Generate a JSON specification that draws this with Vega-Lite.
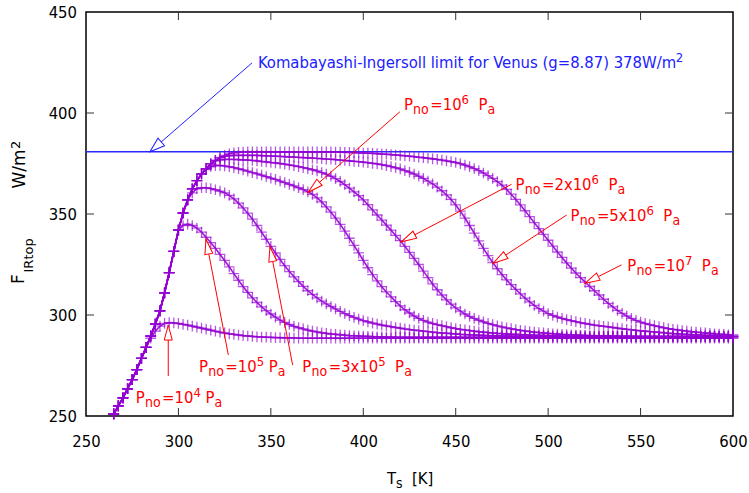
{
"$schema":"https://vega.github.io/schema/vega-lite/v6.json",
"width":647,"height":404,
"autosize":{"type":"none"},
"padding":{"left":86,"top":12,"right":16,"bottom":77},
"background":"white",
"config":{"view":{"stroke":"black","strokeWidth":1.5},"font":"DejaVu Sans Condensed, Liberation Sans Narrow, DejaVu Sans, sans-serif"},
"datasets":{
"curves":[
{"p":"a","T":265,"F":251},{"p":"a","T":267.5,"F":255},{"p":"a","T":270,"F":259},{"p":"a","T":272.5,"F":263.5},{"p":"a","T":275,"F":268},{"p":"a","T":277.5,"F":273},{"p":"a","T":280,"F":278.5},{"p":"a","T":282.5,"F":284},{"p":"a","T":285,"F":288.5},{"p":"a","T":287.5,"F":292},{"p":"a","T":290,"F":294.5},{"p":"a","T":292.5,"F":295.8},{"p":"a","T":295,"F":296.2},{"p":"a","T":297.5,"F":296.1},{"p":"a","T":300,"F":295.8},{"p":"a","T":302.5,"F":295.4},{"p":"a","T":305,"F":295},{"p":"a","T":307.5,"F":294.5},{"p":"a","T":310,"F":294},{"p":"a","T":312.5,"F":293.5},{"p":"a","T":315,"F":293},{"p":"a","T":317.5,"F":292.5},{"p":"a","T":320,"F":292},{"p":"a","T":322.5,"F":291.5},{"p":"a","T":325,"F":291.1},{"p":"a","T":327.5,"F":290.7},{"p":"a","T":330,"F":290.4},{"p":"a","T":332.5,"F":290.1},{"p":"a","T":335,"F":289.8},{"p":"a","T":337.5,"F":289.6},{"p":"a","T":340,"F":289.4},{"p":"a","T":342.5,"F":289.2},{"p":"a","T":345,"F":289.1},{"p":"a","T":347.5,"F":289},{"p":"a","T":350,"F":288.9},{"p":"a","T":352.5,"F":288.8},{"p":"a","T":355,"F":288.8},{"p":"a","T":357.5,"F":288.7},{"p":"a","T":360,"F":288.7},{"p":"a","T":362.5,"F":288.6},{"p":"a","T":365,"F":288.6},{"p":"a","T":367.5,"F":288.5},{"p":"a","T":370,"F":288.5},{"p":"a","T":372.5,"F":288.5},{"p":"a","T":375,"F":288.5},{"p":"a","T":377.5,"F":288.5},{"p":"a","T":380,"F":288.5},{"p":"a","T":382.5,"F":288.5},{"p":"a","T":385,"F":288.5},{"p":"a","T":387.5,"F":288.5},{"p":"a","T":390,"F":288.5},{"p":"a","T":392.5,"F":288.5},{"p":"a","T":395,"F":288.5},{"p":"a","T":397.5,"F":288.5},{"p":"a","T":400,"F":288.5},{"p":"a","T":402.5,"F":288.5},{"p":"a","T":405,"F":288.5},{"p":"a","T":407.5,"F":288.5},{"p":"a","T":410,"F":288.5},{"p":"a","T":412.5,"F":288.5},{"p":"a","T":415,"F":288.5},{"p":"a","T":417.5,"F":288.5},{"p":"a","T":420,"F":288.5},{"p":"a","T":422.5,"F":288.5},{"p":"a","T":425,"F":288.5},{"p":"a","T":427.5,"F":288.5},{"p":"a","T":430,"F":288.5},{"p":"a","T":432.5,"F":288.5},{"p":"a","T":435,"F":288.5},{"p":"a","T":437.5,"F":288.5},{"p":"a","T":440,"F":288.5},{"p":"a","T":442.5,"F":288.5},{"p":"a","T":445,"F":288.5},{"p":"a","T":447.5,"F":288.5},{"p":"a","T":450,"F":288.5},{"p":"a","T":452.5,"F":288.5},{"p":"a","T":455,"F":288.5},{"p":"a","T":457.5,"F":288.5},{"p":"a","T":460,"F":288.5},{"p":"a","T":462.5,"F":288.5},{"p":"a","T":465,"F":288.5},{"p":"a","T":467.5,"F":288.5},{"p":"a","T":470,"F":288.5},{"p":"a","T":472.5,"F":288.5},{"p":"a","T":475,"F":288.5},{"p":"a","T":477.5,"F":288.5},{"p":"a","T":480,"F":288.5},{"p":"a","T":482.5,"F":288.5},{"p":"a","T":485,"F":288.5},{"p":"a","T":487.5,"F":288.5},{"p":"a","T":490,"F":288.5},{"p":"a","T":492.5,"F":288.5},{"p":"a","T":495,"F":288.5},{"p":"a","T":497.5,"F":288.5},{"p":"a","T":500,"F":288.5},{"p":"a","T":502.5,"F":288.5},{"p":"a","T":505,"F":288.5},{"p":"a","T":507.5,"F":288.5},{"p":"a","T":510,"F":288.5},{"p":"a","T":512.5,"F":288.5},{"p":"a","T":515,"F":288.5},{"p":"a","T":517.5,"F":288.5},{"p":"a","T":520,"F":288.5},{"p":"a","T":522.5,"F":288.5},{"p":"a","T":525,"F":288.5},{"p":"a","T":527.5,"F":288.5},{"p":"a","T":530,"F":288.5},{"p":"a","T":532.5,"F":288.5},{"p":"a","T":535,"F":288.5},{"p":"a","T":537.5,"F":288.5},{"p":"a","T":540,"F":288.5},{"p":"a","T":542.5,"F":288.5},{"p":"a","T":545,"F":288.5},{"p":"a","T":547.5,"F":288.5},{"p":"a","T":550,"F":288.5},{"p":"a","T":552.5,"F":288.5},{"p":"a","T":555,"F":288.5},{"p":"a","T":557.5,"F":288.5},{"p":"a","T":560,"F":288.5},{"p":"a","T":562.5,"F":288.5},{"p":"a","T":565,"F":288.5},{"p":"a","T":567.5,"F":288.5},{"p":"a","T":570,"F":288.5},{"p":"a","T":572.5,"F":288.5},{"p":"a","T":575,"F":288.5},{"p":"a","T":577.5,"F":288.5},{"p":"a","T":580,"F":288.5},{"p":"a","T":582.5,"F":288.5},{"p":"a","T":585,"F":288.5},{"p":"a","T":587.5,"F":288.5},{"p":"a","T":590,"F":288.5},{"p":"a","T":592.5,"F":288.5},{"p":"a","T":595,"F":288.5},{"p":"a","T":597.5,"F":288.5},{"p":"a","T":600,"F":288.5},
{"p":"b","T":265,"F":251},{"p":"b","T":267.5,"F":255},{"p":"b","T":270,"F":259},{"p":"b","T":272.5,"F":263.5},{"p":"b","T":275,"F":268},{"p":"b","T":277.5,"F":273},{"p":"b","T":280,"F":278.5},{"p":"b","T":282.5,"F":284},{"p":"b","T":285,"F":289.5},{"p":"b","T":287.5,"F":295.5},{"p":"b","T":290,"F":302},{"p":"b","T":292.5,"F":311},{"p":"b","T":295,"F":321},{"p":"b","T":297.5,"F":331.5},{"p":"b","T":300,"F":342},{"p":"b","T":302.5,"F":344.3},{"p":"b","T":305,"F":345},{"p":"b","T":307.5,"F":344.3},{"p":"b","T":310,"F":343},{"p":"b","T":312.5,"F":341},{"p":"b","T":315,"F":338.5},{"p":"b","T":317.5,"F":335.8},{"p":"b","T":320,"F":333},{"p":"b","T":322.5,"F":330},{"p":"b","T":325,"F":327},{"p":"b","T":327.5,"F":323.8},{"p":"b","T":330,"F":320.5},{"p":"b","T":332.5,"F":317.2},{"p":"b","T":335,"F":314},{"p":"b","T":337.5,"F":311.2},{"p":"b","T":340,"F":308.5},{"p":"b","T":342.5,"F":306.2},{"p":"b","T":345,"F":304},{"p":"b","T":347.5,"F":302.2},{"p":"b","T":350,"F":300.5},{"p":"b","T":352.5,"F":298.9},{"p":"b","T":355,"F":297.5},{"p":"b","T":357.5,"F":296.3},{"p":"b","T":360,"F":295.3},{"p":"b","T":362.5,"F":294.4},{"p":"b","T":365,"F":293.7},{"p":"b","T":367.5,"F":293.1},{"p":"b","T":370,"F":292.5},{"p":"b","T":372.5,"F":292},{"p":"b","T":375,"F":291.6},{"p":"b","T":377.5,"F":291.2},{"p":"b","T":380,"F":290.9},{"p":"b","T":382.5,"F":290.6},{"p":"b","T":385,"F":290.4},{"p":"b","T":387.5,"F":290.2},{"p":"b","T":390,"F":290},{"p":"b","T":392.5,"F":289.8},{"p":"b","T":395,"F":289.7},{"p":"b","T":397.5,"F":289.6},{"p":"b","T":400,"F":289.5},{"p":"b","T":402.5,"F":289.4},{"p":"b","T":405,"F":289.3},{"p":"b","T":407.5,"F":289.2},{"p":"b","T":410,"F":289.2},{"p":"b","T":412.5,"F":289.1},{"p":"b","T":415,"F":289.1},{"p":"b","T":417.5,"F":289},{"p":"b","T":420,"F":289},{"p":"b","T":422.5,"F":289},{"p":"b","T":425,"F":289},{"p":"b","T":427.5,"F":289},{"p":"b","T":430,"F":289},{"p":"b","T":432.5,"F":289},{"p":"b","T":435,"F":289},{"p":"b","T":437.5,"F":289},{"p":"b","T":440,"F":289},{"p":"b","T":442.5,"F":289},{"p":"b","T":445,"F":289},{"p":"b","T":447.5,"F":289},{"p":"b","T":450,"F":289},{"p":"b","T":452.5,"F":289},{"p":"b","T":455,"F":289},{"p":"b","T":457.5,"F":289},{"p":"b","T":460,"F":289},{"p":"b","T":462.5,"F":289},{"p":"b","T":465,"F":289},{"p":"b","T":467.5,"F":289},{"p":"b","T":470,"F":289},{"p":"b","T":472.5,"F":289},{"p":"b","T":475,"F":289},{"p":"b","T":477.5,"F":289},{"p":"b","T":480,"F":289},{"p":"b","T":482.5,"F":289},{"p":"b","T":485,"F":289},{"p":"b","T":487.5,"F":289},{"p":"b","T":490,"F":289},{"p":"b","T":492.5,"F":289},{"p":"b","T":495,"F":289},{"p":"b","T":497.5,"F":289},{"p":"b","T":500,"F":289},{"p":"b","T":502.5,"F":289},{"p":"b","T":505,"F":289},{"p":"b","T":507.5,"F":289},{"p":"b","T":510,"F":289},{"p":"b","T":512.5,"F":289},{"p":"b","T":515,"F":289},{"p":"b","T":517.5,"F":289},{"p":"b","T":520,"F":289},{"p":"b","T":522.5,"F":289},{"p":"b","T":525,"F":289},{"p":"b","T":527.5,"F":289},{"p":"b","T":530,"F":289},{"p":"b","T":532.5,"F":289},{"p":"b","T":535,"F":289},{"p":"b","T":537.5,"F":289},{"p":"b","T":540,"F":289},{"p":"b","T":542.5,"F":289},{"p":"b","T":545,"F":289},{"p":"b","T":547.5,"F":289},{"p":"b","T":550,"F":289},{"p":"b","T":552.5,"F":289},{"p":"b","T":555,"F":289},{"p":"b","T":557.5,"F":289},{"p":"b","T":560,"F":289},{"p":"b","T":562.5,"F":289},{"p":"b","T":565,"F":289},{"p":"b","T":567.5,"F":289},{"p":"b","T":570,"F":289},{"p":"b","T":572.5,"F":289},{"p":"b","T":575,"F":289},{"p":"b","T":577.5,"F":289},{"p":"b","T":580,"F":289},{"p":"b","T":582.5,"F":289},{"p":"b","T":585,"F":289},{"p":"b","T":587.5,"F":289},{"p":"b","T":590,"F":289},{"p":"b","T":592.5,"F":289},{"p":"b","T":595,"F":289},{"p":"b","T":597.5,"F":289},{"p":"b","T":600,"F":289},
{"p":"c","T":265,"F":251},{"p":"c","T":267.5,"F":255},{"p":"c","T":270,"F":259},{"p":"c","T":272.5,"F":263.5},{"p":"c","T":275,"F":268},{"p":"c","T":277.5,"F":273},{"p":"c","T":280,"F":278.5},{"p":"c","T":282.5,"F":284},{"p":"c","T":285,"F":289.5},{"p":"c","T":287.5,"F":295.5},{"p":"c","T":290,"F":302},{"p":"c","T":292.5,"F":311},{"p":"c","T":295,"F":321},{"p":"c","T":297.5,"F":331.5},{"p":"c","T":300,"F":342},{"p":"c","T":302.5,"F":350.5},{"p":"c","T":305,"F":357},{"p":"c","T":307.5,"F":360.5},{"p":"c","T":310,"F":362.5},{"p":"c","T":312.5,"F":363},{"p":"c","T":315,"F":363},{"p":"c","T":317.5,"F":362.6},{"p":"c","T":320,"F":362},{"p":"c","T":322.5,"F":361.3},{"p":"c","T":325,"F":360.5},{"p":"c","T":327.5,"F":359.2},{"p":"c","T":330,"F":357.5},{"p":"c","T":332.5,"F":355.4},{"p":"c","T":335,"F":353},{"p":"c","T":337.5,"F":350.4},{"p":"c","T":340,"F":347.5},{"p":"c","T":342.5,"F":344.3},{"p":"c","T":345,"F":341},{"p":"c","T":347.5,"F":337.5},{"p":"c","T":350,"F":334},{"p":"c","T":352.5,"F":330.7},{"p":"c","T":355,"F":327.5},{"p":"c","T":357.5,"F":324.4},{"p":"c","T":360,"F":321.5},{"p":"c","T":362.5,"F":318.9},{"p":"c","T":365,"F":316.5},{"p":"c","T":367.5,"F":314.2},{"p":"c","T":370,"F":312},{"p":"c","T":372.5,"F":310.2},{"p":"c","T":375,"F":308.5},{"p":"c","T":377.5,"F":306.9},{"p":"c","T":380,"F":305.5},{"p":"c","T":382.5,"F":304.2},{"p":"c","T":385,"F":303},{"p":"c","T":387.5,"F":301.8},{"p":"c","T":390,"F":300.7},{"p":"c","T":392.5,"F":299.7},{"p":"c","T":395,"F":298.8},{"p":"c","T":397.5,"F":298},{"p":"c","T":400,"F":297.2},{"p":"c","T":402.5,"F":296.6},{"p":"c","T":405,"F":296},{"p":"c","T":407.5,"F":295.5},{"p":"c","T":410,"F":295},{"p":"c","T":412.5,"F":294.6},{"p":"c","T":415,"F":294.2},{"p":"c","T":417.5,"F":293.8},{"p":"c","T":420,"F":293.5},{"p":"c","T":422.5,"F":293.1},{"p":"c","T":425,"F":292.8},{"p":"c","T":427.5,"F":292.5},{"p":"c","T":430,"F":292.3},{"p":"c","T":432.5,"F":292},{"p":"c","T":435,"F":291.8},{"p":"c","T":437.5,"F":291.5},{"p":"c","T":440,"F":291.3},{"p":"c","T":442.5,"F":291.1},{"p":"c","T":445,"F":291},{"p":"c","T":447.5,"F":290.8},{"p":"c","T":450,"F":290.6},{"p":"c","T":452.5,"F":290.4},{"p":"c","T":455,"F":290.3},{"p":"c","T":457.5,"F":290.2},{"p":"c","T":460,"F":290.1},{"p":"c","T":462.5,"F":290},{"p":"c","T":465,"F":289.9},{"p":"c","T":467.5,"F":289.8},{"p":"c","T":470,"F":289.8},{"p":"c","T":472.5,"F":289.7},{"p":"c","T":475,"F":289.7},{"p":"c","T":477.5,"F":289.6},{"p":"c","T":480,"F":289.6},{"p":"c","T":482.5,"F":289.5},{"p":"c","T":485,"F":289.5},{"p":"c","T":487.5,"F":289.4},{"p":"c","T":490,"F":289.4},{"p":"c","T":492.5,"F":289.4},{"p":"c","T":495,"F":289.4},{"p":"c","T":497.5,"F":289.3},{"p":"c","T":500,"F":289.3},{"p":"c","T":502.5,"F":289.2},{"p":"c","T":505,"F":289.2},{"p":"c","T":507.5,"F":289.2},{"p":"c","T":510,"F":289.2},{"p":"c","T":512.5,"F":289.2},{"p":"c","T":515,"F":289.2},{"p":"c","T":517.5,"F":289.2},{"p":"c","T":520,"F":289.2},{"p":"c","T":522.5,"F":289.2},{"p":"c","T":525,"F":289.2},{"p":"c","T":527.5,"F":289.2},{"p":"c","T":530,"F":289.2},{"p":"c","T":532.5,"F":289.2},{"p":"c","T":535,"F":289.2},{"p":"c","T":537.5,"F":289.2},{"p":"c","T":540,"F":289.2},{"p":"c","T":542.5,"F":289.2},{"p":"c","T":545,"F":289.2},{"p":"c","T":547.5,"F":289.2},{"p":"c","T":550,"F":289.2},{"p":"c","T":552.5,"F":289.2},{"p":"c","T":555,"F":289.2},{"p":"c","T":557.5,"F":289.2},{"p":"c","T":560,"F":289.2},{"p":"c","T":562.5,"F":289.2},{"p":"c","T":565,"F":289.2},{"p":"c","T":567.5,"F":289.2},{"p":"c","T":570,"F":289.2},{"p":"c","T":572.5,"F":289.2},{"p":"c","T":575,"F":289.2},{"p":"c","T":577.5,"F":289.2},{"p":"c","T":580,"F":289.2},{"p":"c","T":582.5,"F":289.2},{"p":"c","T":585,"F":289.2},{"p":"c","T":587.5,"F":289.2},{"p":"c","T":590,"F":289.2},{"p":"c","T":592.5,"F":289.2},{"p":"c","T":595,"F":289.2},{"p":"c","T":597.5,"F":289.2},{"p":"c","T":600,"F":289.2},
{"p":"d","T":265,"F":251},{"p":"d","T":267.5,"F":255},{"p":"d","T":270,"F":259},{"p":"d","T":272.5,"F":263.5},{"p":"d","T":275,"F":268},{"p":"d","T":277.5,"F":273},{"p":"d","T":280,"F":278.5},{"p":"d","T":282.5,"F":284},{"p":"d","T":285,"F":289.5},{"p":"d","T":287.5,"F":295.5},{"p":"d","T":290,"F":302},{"p":"d","T":292.5,"F":311},{"p":"d","T":295,"F":321},{"p":"d","T":297.5,"F":331.5},{"p":"d","T":300,"F":342},{"p":"d","T":302.5,"F":350.5},{"p":"d","T":305,"F":357},{"p":"d","T":307.5,"F":362.5},{"p":"d","T":310,"F":366.5},{"p":"d","T":312.5,"F":369.8},{"p":"d","T":315,"F":372},{"p":"d","T":317.5,"F":373.4},{"p":"d","T":320,"F":374},{"p":"d","T":322.5,"F":374},{"p":"d","T":325,"F":373.8},{"p":"d","T":327.5,"F":373.4},{"p":"d","T":330,"F":373},{"p":"d","T":332.5,"F":372.4},{"p":"d","T":335,"F":371.8},{"p":"d","T":337.5,"F":371.2},{"p":"d","T":340,"F":370.5},{"p":"d","T":342.5,"F":369.9},{"p":"d","T":345,"F":369.2},{"p":"d","T":347.5,"F":368.5},{"p":"d","T":350,"F":367.8},{"p":"d","T":352.5,"F":367.1},{"p":"d","T":355,"F":366.3},{"p":"d","T":357.5,"F":365.5},{"p":"d","T":360,"F":364.7},{"p":"d","T":362.5,"F":363.9},{"p":"d","T":365,"F":363},{"p":"d","T":367.5,"F":362.1},{"p":"d","T":370,"F":361},{"p":"d","T":372.5,"F":359.7},{"p":"d","T":375,"F":358},{"p":"d","T":377.5,"F":356},{"p":"d","T":380,"F":353.5},{"p":"d","T":382.5,"F":350.9},{"p":"d","T":385,"F":348},{"p":"d","T":387.5,"F":344.9},{"p":"d","T":390,"F":341.5},{"p":"d","T":392.5,"F":338},{"p":"d","T":395,"F":334.5},{"p":"d","T":397.5,"F":330.8},{"p":"d","T":400,"F":327},{"p":"d","T":402.5,"F":323.4},{"p":"d","T":405,"F":320},{"p":"d","T":407.5,"F":316.9},{"p":"d","T":410,"F":314},{"p":"d","T":412.5,"F":311.4},{"p":"d","T":415,"F":309},{"p":"d","T":417.5,"F":306.6},{"p":"d","T":420,"F":304.5},{"p":"d","T":422.5,"F":302.6},{"p":"d","T":425,"F":301},{"p":"d","T":427.5,"F":299.5},{"p":"d","T":430,"F":298.3},{"p":"d","T":432.5,"F":297.3},{"p":"d","T":435,"F":296.5},{"p":"d","T":437.5,"F":295.8},{"p":"d","T":440,"F":295.2},{"p":"d","T":442.5,"F":294.7},{"p":"d","T":445,"F":294.2},{"p":"d","T":447.5,"F":293.7},{"p":"d","T":450,"F":293.3},{"p":"d","T":452.5,"F":292.9},{"p":"d","T":455,"F":292.6},{"p":"d","T":457.5,"F":292.3},{"p":"d","T":460,"F":292},{"p":"d","T":462.5,"F":291.7},{"p":"d","T":465,"F":291.5},{"p":"d","T":467.5,"F":291.3},{"p":"d","T":470,"F":291.1},{"p":"d","T":472.5,"F":290.9},{"p":"d","T":475,"F":290.8},{"p":"d","T":477.5,"F":290.6},{"p":"d","T":480,"F":290.5},{"p":"d","T":482.5,"F":290.4},{"p":"d","T":485,"F":290.3},{"p":"d","T":487.5,"F":290.2},{"p":"d","T":490,"F":290.1},{"p":"d","T":492.5,"F":290},{"p":"d","T":495,"F":289.9},{"p":"d","T":497.5,"F":289.9},{"p":"d","T":500,"F":289.8},{"p":"d","T":502.5,"F":289.7},{"p":"d","T":505,"F":289.7},{"p":"d","T":507.5,"F":289.6},{"p":"d","T":510,"F":289.6},{"p":"d","T":512.5,"F":289.5},{"p":"d","T":515,"F":289.5},{"p":"d","T":517.5,"F":289.5},{"p":"d","T":520,"F":289.5},{"p":"d","T":522.5,"F":289.4},{"p":"d","T":525,"F":289.4},{"p":"d","T":527.5,"F":289.4},{"p":"d","T":530,"F":289.4},{"p":"d","T":532.5,"F":289.4},{"p":"d","T":535,"F":289.4},{"p":"d","T":537.5,"F":289.4},{"p":"d","T":540,"F":289.4},{"p":"d","T":542.5,"F":289.4},{"p":"d","T":545,"F":289.4},{"p":"d","T":547.5,"F":289.4},{"p":"d","T":550,"F":289.4},{"p":"d","T":552.5,"F":289.4},{"p":"d","T":555,"F":289.4},{"p":"d","T":557.5,"F":289.4},{"p":"d","T":560,"F":289.4},{"p":"d","T":562.5,"F":289.4},{"p":"d","T":565,"F":289.4},{"p":"d","T":567.5,"F":289.4},{"p":"d","T":570,"F":289.4},{"p":"d","T":572.5,"F":289.4},{"p":"d","T":575,"F":289.4},{"p":"d","T":577.5,"F":289.4},{"p":"d","T":580,"F":289.4},{"p":"d","T":582.5,"F":289.4},{"p":"d","T":585,"F":289.4},{"p":"d","T":587.5,"F":289.4},{"p":"d","T":590,"F":289.4},{"p":"d","T":592.5,"F":289.4},{"p":"d","T":595,"F":289.4},{"p":"d","T":597.5,"F":289.4},{"p":"d","T":600,"F":289.4},
{"p":"e","T":265,"F":251},{"p":"e","T":267.5,"F":255},{"p":"e","T":270,"F":259},{"p":"e","T":272.5,"F":263.5},{"p":"e","T":275,"F":268},{"p":"e","T":277.5,"F":273},{"p":"e","T":280,"F":278.5},{"p":"e","T":282.5,"F":284},{"p":"e","T":285,"F":289.5},{"p":"e","T":287.5,"F":295.5},{"p":"e","T":290,"F":302},{"p":"e","T":292.5,"F":311},{"p":"e","T":295,"F":321},{"p":"e","T":297.5,"F":331.5},{"p":"e","T":300,"F":342},{"p":"e","T":302.5,"F":350.5},{"p":"e","T":305,"F":357},{"p":"e","T":307.5,"F":362.5},{"p":"e","T":310,"F":366.5},{"p":"e","T":312.5,"F":369.8},{"p":"e","T":315,"F":372.5},{"p":"e","T":317.5,"F":374.8},{"p":"e","T":320,"F":376.3},{"p":"e","T":322.5,"F":376.8},{"p":"e","T":325,"F":377},{"p":"e","T":327.5,"F":377},{"p":"e","T":330,"F":377},{"p":"e","T":332.5,"F":376.9},{"p":"e","T":335,"F":376.8},{"p":"e","T":337.5,"F":376.7},{"p":"e","T":340,"F":376.5},{"p":"e","T":342.5,"F":376.3},{"p":"e","T":345,"F":376},{"p":"e","T":347.5,"F":375.8},{"p":"e","T":350,"F":375.5},{"p":"e","T":352.5,"F":375.3},{"p":"e","T":355,"F":375},{"p":"e","T":357.5,"F":374.7},{"p":"e","T":360,"F":374.3},{"p":"e","T":362.5,"F":373.9},{"p":"e","T":365,"F":373.5},{"p":"e","T":367.5,"F":373},{"p":"e","T":370,"F":372.5},{"p":"e","T":372.5,"F":371.9},{"p":"e","T":375,"F":371.3},{"p":"e","T":377.5,"F":370.5},{"p":"e","T":380,"F":369.7},{"p":"e","T":382.5,"F":368.7},{"p":"e","T":385,"F":367.5},{"p":"e","T":387.5,"F":366.1},{"p":"e","T":390,"F":364.5},{"p":"e","T":392.5,"F":362.8},{"p":"e","T":395,"F":361},{"p":"e","T":397.5,"F":359.1},{"p":"e","T":400,"F":357},{"p":"e","T":402.5,"F":354.6},{"p":"e","T":405,"F":352},{"p":"e","T":407.5,"F":349.5},{"p":"e","T":410,"F":347},{"p":"e","T":412.5,"F":344.5},{"p":"e","T":415,"F":342},{"p":"e","T":417.5,"F":339.4},{"p":"e","T":420,"F":336.8},{"p":"e","T":422.5,"F":334},{"p":"e","T":425,"F":331},{"p":"e","T":427.5,"F":328},{"p":"e","T":430,"F":325},{"p":"e","T":432.5,"F":321.7},{"p":"e","T":435,"F":318.5},{"p":"e","T":437.5,"F":315.4},{"p":"e","T":440,"F":312.5},{"p":"e","T":442.5,"F":309.9},{"p":"e","T":445,"F":307.5},{"p":"e","T":447.5,"F":305.4},{"p":"e","T":450,"F":303.5},{"p":"e","T":452.5,"F":301.9},{"p":"e","T":455,"F":300.5},{"p":"e","T":457.5,"F":299.3},{"p":"e","T":460,"F":298.3},{"p":"e","T":462.5,"F":297.4},{"p":"e","T":465,"F":296.6},{"p":"e","T":467.5,"F":295.9},{"p":"e","T":470,"F":295.2},{"p":"e","T":472.5,"F":294.6},{"p":"e","T":475,"F":294.1},{"p":"e","T":477.5,"F":293.6},{"p":"e","T":480,"F":293.2},{"p":"e","T":482.5,"F":292.8},{"p":"e","T":485,"F":292.4},{"p":"e","T":487.5,"F":292.1},{"p":"e","T":490,"F":291.8},{"p":"e","T":492.5,"F":291.5},{"p":"e","T":495,"F":291.3},{"p":"e","T":497.5,"F":291.1},{"p":"e","T":500,"F":290.9},{"p":"e","T":502.5,"F":290.7},{"p":"e","T":505,"F":290.6},{"p":"e","T":507.5,"F":290.4},{"p":"e","T":510,"F":290.3},{"p":"e","T":512.5,"F":290.2},{"p":"e","T":515,"F":290.1},{"p":"e","T":517.5,"F":290},{"p":"e","T":520,"F":289.9},{"p":"e","T":522.5,"F":289.8},{"p":"e","T":525,"F":289.8},{"p":"e","T":527.5,"F":289.7},{"p":"e","T":530,"F":289.6},{"p":"e","T":532.5,"F":289.6},{"p":"e","T":535,"F":289.5},{"p":"e","T":537.5,"F":289.5},{"p":"e","T":540,"F":289.4},{"p":"e","T":542.5,"F":289.4},{"p":"e","T":545,"F":289.4},{"p":"e","T":547.5,"F":289.3},{"p":"e","T":550,"F":289.3},{"p":"e","T":552.5,"F":289.3},{"p":"e","T":555,"F":289.3},{"p":"e","T":557.5,"F":289.3},{"p":"e","T":560,"F":289.3},{"p":"e","T":562.5,"F":289.3},{"p":"e","T":565,"F":289.3},{"p":"e","T":567.5,"F":289.3},{"p":"e","T":570,"F":289.3},{"p":"e","T":572.5,"F":289.3},{"p":"e","T":575,"F":289.3},{"p":"e","T":577.5,"F":289.3},{"p":"e","T":580,"F":289.3},{"p":"e","T":582.5,"F":289.3},{"p":"e","T":585,"F":289.3},{"p":"e","T":587.5,"F":289.3},{"p":"e","T":590,"F":289.3},{"p":"e","T":592.5,"F":289.3},{"p":"e","T":595,"F":289.3},{"p":"e","T":597.5,"F":289.3},{"p":"e","T":600,"F":289.3},
{"p":"f","T":265,"F":251},{"p":"f","T":267.5,"F":255},{"p":"f","T":270,"F":259},{"p":"f","T":272.5,"F":263.5},{"p":"f","T":275,"F":268},{"p":"f","T":277.5,"F":273},{"p":"f","T":280,"F":278.5},{"p":"f","T":282.5,"F":284},{"p":"f","T":285,"F":289.5},{"p":"f","T":287.5,"F":295.5},{"p":"f","T":290,"F":302},{"p":"f","T":292.5,"F":311},{"p":"f","T":295,"F":321},{"p":"f","T":297.5,"F":331.5},{"p":"f","T":300,"F":342},{"p":"f","T":302.5,"F":350.5},{"p":"f","T":305,"F":357},{"p":"f","T":307.5,"F":362.5},{"p":"f","T":310,"F":366.5},{"p":"f","T":312.5,"F":369.8},{"p":"f","T":315,"F":372.5},{"p":"f","T":317.5,"F":374.8},{"p":"f","T":320,"F":376.5},{"p":"f","T":322.5,"F":377.8},{"p":"f","T":325,"F":378.5},{"p":"f","T":327.5,"F":378.8},{"p":"f","T":330,"F":379},{"p":"f","T":332.5,"F":379},{"p":"f","T":335,"F":379},{"p":"f","T":337.5,"F":379},{"p":"f","T":340,"F":379},{"p":"f","T":342.5,"F":379},{"p":"f","T":345,"F":378.9},{"p":"f","T":347.5,"F":378.8},{"p":"f","T":350,"F":378.7},{"p":"f","T":352.5,"F":378.6},{"p":"f","T":355,"F":378.5},{"p":"f","T":357.5,"F":378.4},{"p":"f","T":360,"F":378.3},{"p":"f","T":362.5,"F":378.2},{"p":"f","T":365,"F":378},{"p":"f","T":367.5,"F":377.9},{"p":"f","T":370,"F":377.8},{"p":"f","T":372.5,"F":377.7},{"p":"f","T":375,"F":377.5},{"p":"f","T":377.5,"F":377.4},{"p":"f","T":380,"F":377.2},{"p":"f","T":382.5,"F":377.1},{"p":"f","T":385,"F":376.9},{"p":"f","T":387.5,"F":376.7},{"p":"f","T":390,"F":376.5},{"p":"f","T":392.5,"F":376.3},{"p":"f","T":395,"F":376.1},{"p":"f","T":397.5,"F":375.9},{"p":"f","T":400,"F":375.7},{"p":"f","T":402.5,"F":375.4},{"p":"f","T":405,"F":375.1},{"p":"f","T":407.5,"F":374.8},{"p":"f","T":410,"F":374.4},{"p":"f","T":412.5,"F":374},{"p":"f","T":415,"F":373.5},{"p":"f","T":417.5,"F":372.9},{"p":"f","T":420,"F":372.3},{"p":"f","T":422.5,"F":371.5},{"p":"f","T":425,"F":370.7},{"p":"f","T":427.5,"F":369.8},{"p":"f","T":430,"F":368.7},{"p":"f","T":432.5,"F":367.6},{"p":"f","T":435,"F":366.3},{"p":"f","T":437.5,"F":364.9},{"p":"f","T":440,"F":363.3},{"p":"f","T":442.5,"F":361.5},{"p":"f","T":445,"F":359.5},{"p":"f","T":447.5,"F":357.2},{"p":"f","T":450,"F":354.5},{"p":"f","T":452.5,"F":351.4},{"p":"f","T":455,"F":348},{"p":"f","T":457.5,"F":344.3},{"p":"f","T":460,"F":340.5},{"p":"f","T":462.5,"F":336.7},{"p":"f","T":465,"F":333},{"p":"f","T":467.5,"F":329.4},{"p":"f","T":470,"F":326},{"p":"f","T":472.5,"F":322.9},{"p":"f","T":475,"F":320},{"p":"f","T":477.5,"F":317.4},{"p":"f","T":480,"F":315},{"p":"f","T":482.5,"F":312.7},{"p":"f","T":485,"F":310.5},{"p":"f","T":487.5,"F":308.4},{"p":"f","T":490,"F":306.5},{"p":"f","T":492.5,"F":304.8},{"p":"f","T":495,"F":303.2},{"p":"f","T":497.5,"F":301.9},{"p":"f","T":500,"F":300.7},{"p":"f","T":502.5,"F":299.8},{"p":"f","T":505,"F":299},{"p":"f","T":507.5,"F":298.3},{"p":"f","T":510,"F":297.7},{"p":"f","T":512.5,"F":297.2},{"p":"f","T":515,"F":296.7},{"p":"f","T":517.5,"F":296.2},{"p":"f","T":520,"F":295.8},{"p":"f","T":522.5,"F":295.4},{"p":"f","T":525,"F":295},{"p":"f","T":527.5,"F":294.7},{"p":"f","T":530,"F":294.4},{"p":"f","T":532.5,"F":294.1},{"p":"f","T":535,"F":293.8},{"p":"f","T":537.5,"F":293.5},{"p":"f","T":540,"F":293.2},{"p":"f","T":542.5,"F":292.9},{"p":"f","T":545,"F":292.7},{"p":"f","T":547.5,"F":292.4},{"p":"f","T":550,"F":292.2},{"p":"f","T":552.5,"F":292},{"p":"f","T":555,"F":291.8},{"p":"f","T":557.5,"F":291.6},{"p":"f","T":560,"F":291.4},{"p":"f","T":562.5,"F":291.2},{"p":"f","T":565,"F":291},{"p":"f","T":567.5,"F":290.8},{"p":"f","T":570,"F":290.7},{"p":"f","T":572.5,"F":290.5},{"p":"f","T":575,"F":290.4},{"p":"f","T":577.5,"F":290.3},{"p":"f","T":580,"F":290.2},{"p":"f","T":582.5,"F":290.1},{"p":"f","T":585,"F":290},{"p":"f","T":587.5,"F":289.9},{"p":"f","T":590,"F":289.8},{"p":"f","T":592.5,"F":289.7},{"p":"f","T":595,"F":289.6},{"p":"f","T":597.5,"F":289.6},{"p":"f","T":600,"F":289.5},
{"p":"g","T":265,"F":251},{"p":"g","T":267.5,"F":255},{"p":"g","T":270,"F":259},{"p":"g","T":272.5,"F":263.5},{"p":"g","T":275,"F":268},{"p":"g","T":277.5,"F":273},{"p":"g","T":280,"F":278.5},{"p":"g","T":282.5,"F":284},{"p":"g","T":285,"F":289.5},{"p":"g","T":287.5,"F":295.5},{"p":"g","T":290,"F":302},{"p":"g","T":292.5,"F":311},{"p":"g","T":295,"F":321},{"p":"g","T":297.5,"F":331.5},{"p":"g","T":300,"F":342},{"p":"g","T":302.5,"F":350.5},{"p":"g","T":305,"F":357},{"p":"g","T":307.5,"F":362.5},{"p":"g","T":310,"F":366.5},{"p":"g","T":312.5,"F":369.8},{"p":"g","T":315,"F":372.5},{"p":"g","T":317.5,"F":374.8},{"p":"g","T":320,"F":376.5},{"p":"g","T":322.5,"F":378},{"p":"g","T":325,"F":379},{"p":"g","T":327.5,"F":379.8},{"p":"g","T":330,"F":380.3},{"p":"g","T":332.5,"F":380.5},{"p":"g","T":335,"F":380.6},{"p":"g","T":337.5,"F":380.7},{"p":"g","T":340,"F":380.7},{"p":"g","T":342.5,"F":380.7},{"p":"g","T":345,"F":380.7},{"p":"g","T":347.5,"F":380.7},{"p":"g","T":350,"F":380.7},{"p":"g","T":352.5,"F":380.7},{"p":"g","T":355,"F":380.7},{"p":"g","T":357.5,"F":380.7},{"p":"g","T":360,"F":380.7},{"p":"g","T":362.5,"F":380.7},{"p":"g","T":365,"F":380.7},{"p":"g","T":367.5,"F":380.7},{"p":"g","T":370,"F":380.7},{"p":"g","T":372.5,"F":380.7},{"p":"g","T":375,"F":380.7},{"p":"g","T":377.5,"F":380.7},{"p":"g","T":380,"F":380.7},{"p":"g","T":382.5,"F":380.7},{"p":"g","T":385,"F":380.6},{"p":"g","T":387.5,"F":380.6},{"p":"g","T":390,"F":380.5},{"p":"g","T":392.5,"F":380.5},{"p":"g","T":395,"F":380.4},{"p":"g","T":397.5,"F":380.3},{"p":"g","T":400,"F":380.2},{"p":"g","T":402.5,"F":380.1},{"p":"g","T":405,"F":380},{"p":"g","T":407.5,"F":379.9},{"p":"g","T":410,"F":379.7},{"p":"g","T":412.5,"F":379.6},{"p":"g","T":415,"F":379.4},{"p":"g","T":417.5,"F":379.2},{"p":"g","T":420,"F":379},{"p":"g","T":422.5,"F":378.8},{"p":"g","T":425,"F":378.6},{"p":"g","T":427.5,"F":378.4},{"p":"g","T":430,"F":378.1},{"p":"g","T":432.5,"F":377.9},{"p":"g","T":435,"F":377.6},{"p":"g","T":437.5,"F":377.3},{"p":"g","T":440,"F":377},{"p":"g","T":442.5,"F":376.7},{"p":"g","T":445,"F":376.3},{"p":"g","T":447.5,"F":375.9},{"p":"g","T":450,"F":375.5},{"p":"g","T":452.5,"F":374.9},{"p":"g","T":455,"F":374.2},{"p":"g","T":457.5,"F":373.4},{"p":"g","T":460,"F":372.5},{"p":"g","T":462.5,"F":371.5},{"p":"g","T":465,"F":370.3},{"p":"g","T":467.5,"F":369},{"p":"g","T":470,"F":367.6},{"p":"g","T":472.5,"F":366},{"p":"g","T":475,"F":364.3},{"p":"g","T":477.5,"F":362.2},{"p":"g","T":480,"F":359.8},{"p":"g","T":482.5,"F":357.2},{"p":"g","T":485,"F":354.5},{"p":"g","T":487.5,"F":351.6},{"p":"g","T":490,"F":348.7},{"p":"g","T":492.5,"F":345.7},{"p":"g","T":495,"F":342.8},{"p":"g","T":497.5,"F":339.9},{"p":"g","T":500,"F":337},{"p":"g","T":502.5,"F":334.1},{"p":"g","T":505,"F":331.2},{"p":"g","T":507.5,"F":328.5},{"p":"g","T":510,"F":325.8},{"p":"g","T":512.5,"F":323.2},{"p":"g","T":515,"F":320.8},{"p":"g","T":517.5,"F":318.5},{"p":"g","T":520,"F":316.3},{"p":"g","T":522.5,"F":314.1},{"p":"g","T":525,"F":312},{"p":"g","T":527.5,"F":309.9},{"p":"g","T":530,"F":307.8},{"p":"g","T":532.5,"F":305.8},{"p":"g","T":535,"F":304},{"p":"g","T":537.5,"F":302.3},{"p":"g","T":540,"F":300.8},{"p":"g","T":542.5,"F":299.5},{"p":"g","T":545,"F":298.3},{"p":"g","T":547.5,"F":297.3},{"p":"g","T":550,"F":296.5},{"p":"g","T":552.5,"F":295.8},{"p":"g","T":555,"F":295.2},{"p":"g","T":557.5,"F":294.7},{"p":"g","T":560,"F":294.2},{"p":"g","T":562.5,"F":293.7},{"p":"g","T":565,"F":293.3},{"p":"g","T":567.5,"F":292.9},{"p":"g","T":570,"F":292.6},{"p":"g","T":572.5,"F":292.3},{"p":"g","T":575,"F":292},{"p":"g","T":577.5,"F":291.7},{"p":"g","T":580,"F":291.5},{"p":"g","T":582.5,"F":291.3},{"p":"g","T":585,"F":291.1},{"p":"g","T":587.5,"F":290.9},{"p":"g","T":590,"F":290.7},{"p":"g","T":592.5,"F":290.5},{"p":"g","T":595,"F":290.4},{"p":"g","T":597.5,"F":290.2},{"p":"g","T":600,"F":290.1}
],
"limit":[{"F":380.8}],
"ticks":[
{"T":300,"F":250,"T2":300,"F2":253.96},{"T":350,"F":250,"T2":350,"F2":253.96},{"T":400,"F":250,"T2":400,"F2":253.96},{"T":450,"F":250,"T2":450,"F2":253.96},{"T":500,"F":250,"T2":500,"F2":253.96},{"T":550,"F":250,"T2":550,"F2":253.96},
{"T":300,"F":446.04,"T2":300,"F2":450},{"T":350,"F":446.04,"T2":350,"F2":450},{"T":400,"F":446.04,"T2":400,"F2":450},{"T":450,"F":446.04,"T2":450,"F2":450},{"T":500,"F":446.04,"T2":500,"F2":450},{"T":550,"F":446.04,"T2":550,"F2":450},
{"T":250,"F":300,"T2":254.33,"F2":300},{"T":250,"F":350,"T2":254.33,"F2":350},{"T":250,"F":400,"T2":254.33,"F2":400},
{"T":595.67,"F":300,"T2":600,"F2":300},{"T":595.67,"F":350,"T2":600,"F2":350},{"T":595.67,"F":400,"T2":600,"F2":400}
],
"arrows":[
{"id":"ki","T":339.8,"F":424.8,"T2":284.6,"F2":380.8,"k":"blue"},
{"id":"1e6","T":419.8,"F":400.6,"T2":370.2,"F2":360.8,"k":"red"},
{"id":"2e6","T":480.2,"F":364.7,"T2":420.7,"F2":336.3,"k":"red"},
{"id":"5e6","T":510.0,"F":349.5,"T2":470.3,"F2":325.6,"k":"red"},
{"id":"1e7","T":539.7,"F":324.8,"T2":519.9,"F2":315.7,"k":"red"},
{"id":"1e5","T":327.0,"F":280.2,"T2":314.9,"F2":337.5,"k":"red"},
{"id":"3e5","T":361.8,"F":275.2,"T2":349.5,"F2":333.8,"k":"red"},
{"id":"1e4","T":294.5,"F":269.8,"T2":294.5,"F2":295.0,"k":"red"}
],
"pieces":[
{"txt":"Komabayashi-Ingersoll limit for Venus (g=8.87) 378W/m","T":343,"F":422.4,"k":"blue","s":"m"},
{"txt":"2","T":569,"F":422.4,"k":"blue","s":"p"},
{"txt":"P","T":421.98,"F":401.5,"k":"red","s":"m"},{"txt":"no","T":426.96,"F":401.5,"k":"red","s":"b"},{"txt":"=10","T":436.26,"F":401.5,"k":"red","s":"m"},{"txt":"6","T":453.19,"F":401.5,"k":"red","s":"p"},{"txt":"P","T":462.27,"F":401.5,"k":"red","s":"m"},{"txt":"a","T":467.25,"F":401.5,"k":"red","s":"b"},
{"txt":"P","T":482.4,"F":361.9,"k":"red","s":"m"},{"txt":"no","T":487.38,"F":361.9,"k":"red","s":"b"},{"txt":"=2x10","T":496.68,"F":361.9,"k":"red","s":"m"},{"txt":"6","T":523.5,"F":361.9,"k":"red","s":"p"},{"txt":"P","T":532.59,"F":361.9,"k":"red","s":"m"},{"txt":"a","T":537.56,"F":361.9,"k":"red","s":"b"},
{"txt":"P","T":512.1,"F":346.5,"k":"red","s":"m"},{"txt":"no","T":517.08,"F":346.5,"k":"red","s":"b"},{"txt":"=5x10","T":526.38,"F":346.5,"k":"red","s":"m"},{"txt":"6","T":553.2,"F":346.5,"k":"red","s":"p"},{"txt":"P","T":562.29,"F":346.5,"k":"red","s":"m"},{"txt":"a","T":567.26,"F":346.5,"k":"red","s":"b"},
{"txt":"P","T":542.8,"F":321.8,"k":"red","s":"m"},{"txt":"no","T":547.78,"F":321.8,"k":"red","s":"b"},{"txt":"=10","T":557.08,"F":321.8,"k":"red","s":"m"},{"txt":"7","T":573.99,"F":321.8,"k":"red","s":"p"},{"txt":"P","T":583.09,"F":321.8,"k":"red","s":"m"},{"txt":"a","T":588.07,"F":321.8,"k":"red","s":"b"},
{"txt":"P","T":311.1,"F":272,"k":"red","s":"m"},{"txt":"no","T":316.08,"F":272,"k":"red","s":"b"},{"txt":"=10","T":325.38,"F":272,"k":"red","s":"m"},{"txt":"5","T":342.31,"F":272,"k":"red","s":"p"},{"txt":"P","T":348.85,"F":272,"k":"red","s":"m"},{"txt":"a","T":353.77,"F":272,"k":"red","s":"b"},
{"txt":"P","T":367.0,"F":272,"k":"red","s":"m"},{"txt":"no","T":371.98,"F":272,"k":"red","s":"b"},{"txt":"=3x10","T":381.28,"F":272,"k":"red","s":"m"},{"txt":"5","T":408.1,"F":272,"k":"red","s":"p"},{"txt":"P","T":417.19,"F":272,"k":"red","s":"m"},{"txt":"a","T":422.16,"F":272,"k":"red","s":"b"},
{"txt":"P","T":276.9,"F":256.4,"k":"red","s":"m"},{"txt":"no","T":281.88,"F":256.4,"k":"red","s":"b"},{"txt":"=10","T":291.18,"F":256.4,"k":"red","s":"m"},{"txt":"4","T":308.11,"F":256.4,"k":"red","s":"p"},{"txt":"P","T":314.65,"F":256.4,"k":"red","s":"m"},{"txt":"a","T":319.57,"F":256.4,"k":"red","s":"b"},
{"txt":"T","T":412.8,"F":216.3,"k":"black","s":"m"},{"txt":"s","T":417.7,"F":216.3,"k":"black","s":"b"},{"txt":"[K]","T":426.3,"F":216.3,"k":"black","s":"m"}
],
"ytitle":[
{"txt":"F","T":213.8,"F":317.8,"s":"big"},
{"txt":"IRtop","T":218.9,"F":329.5,"s":"small"},
{"txt":"W/m","T":214.3,"F":372.3,"s":"big"},
{"txt":"2","T":211.9,"F":384.2,"s":"small"}
]
},
"layer":[
{"data":{"name":"limit"},"mark":{"type":"rule","color":"#2a2aff","strokeWidth":1.5},
 "encoding":{"y":{"field":"F","type":"quantitative","scale":{"domain":[250,450],"nice":false,"zero":false},"axis":null}}},
{"data":{"name":"ticks"},"mark":{"type":"rule","color":"#333333","strokeWidth":1},
 "encoding":{
  "x":{"field":"T","type":"quantitative","scale":{"domain":[250,600],"nice":false,"zero":false},"axis":null},
  "y":{"field":"F","type":"quantitative","scale":{"domain":[250,450],"nice":false,"zero":false},"axis":null},
  "x2":{"field":"T2"},"y2":{"field":"F2"}}},
{"data":{"name":"curves"},"mark":{"type":"line","color":"#9400d3","strokeWidth":1.6,"opacity":0.9},
 "encoding":{
  "x":{"field":"T","type":"quantitative","scale":{"domain":[250,600],"nice":false,"zero":false},
   "axis":{"values":[250,300,350,400,450,500,550,600],"title":null,"labelFontSize":16.5,"labelColor":"black","labelPadding":17.5,"labelFlush":false,"labelOverlap":false,"ticks":false,"domain":false,"grid":false}},
  "y":{"field":"F","type":"quantitative","scale":{"domain":[250,450],"nice":false,"zero":false},
   "axis":{"values":[250,300,350,400,450],"title":null,"labelFontSize":16.5,"labelColor":"black","labelPadding":9.5,"labelFlush":false,"labelOverlap":false,"ticks":false,"domain":false,"grid":false}},
  "detail":{"field":"p"}}},
{"data":{"name":"curves"},"mark":{"type":"point","shape":"M-1,0L1,0M0,-1L0,1","filled":false,"color":"#9400d3","strokeWidth":1.3,"size":115,"opacity":0.65},
 "encoding":{
  "x":{"field":"T","type":"quantitative","scale":{"domain":[250,600],"nice":false,"zero":false},"axis":null},
  "y":{"field":"F","type":"quantitative","scale":{"domain":[250,450],"nice":false,"zero":false},"axis":null}}},
{"data":{"name":"arrows"},"mark":{"type":"rule","strokeWidth":1},
 "encoding":{
  "x":{"field":"T","type":"quantitative","scale":{"domain":[250,600],"nice":false,"zero":false},"axis":null},
  "y":{"field":"F","type":"quantitative","scale":{"domain":[250,450],"nice":false,"zero":false},"axis":null},
  "x2":{"field":"T2"},"y2":{"field":"F2"},
  "color":{"field":"k","type":"nominal","scale":{"domain":["blue","red","black"],"range":["#2020ff","#ff0000","#000000"]},"legend":null}}},
{"data":{"name":"arrows"},"transform":[{"filter":"datum.id==='ki'"}],"mark":{"type":"point","shape":"M0,0L-1,3L1,3Z","angle":228.9,"size":100,"filled":true,"fill":"white","stroke":"#2020ff","strokeWidth":1,"opacity":1},
 "encoding":{"x":{"field":"T2","type":"quantitative","scale":{"domain":[250,600],"nice":false,"zero":false},"axis":null},"y":{"field":"F2","type":"quantitative","scale":{"domain":[250,450],"nice":false,"zero":false},"axis":null}}},
{"data":{"name":"arrows"},"transform":[{"filter":"datum.id==='1e6'"}],"mark":{"type":"point","shape":"M0,0L-0.8,3L0.8,3Z","angle":228.8,"size":100,"filled":true,"fill":"white","stroke":"#ff0000","strokeWidth":1,"opacity":1},
 "encoding":{"x":{"field":"T2","type":"quantitative","scale":{"domain":[250,600],"nice":false,"zero":false},"axis":null},"y":{"field":"F2","type":"quantitative","scale":{"domain":[250,450],"nice":false,"zero":false},"axis":null}}},
{"data":{"name":"arrows"},"transform":[{"filter":"datum.id==='2e6'"}],"mark":{"type":"point","shape":"M0,0L-0.8,3L0.8,3Z","angle":242.4,"size":100,"filled":true,"fill":"white","stroke":"#ff0000","strokeWidth":1,"opacity":1},
 "encoding":{"x":{"field":"T2","type":"quantitative","scale":{"domain":[250,600],"nice":false,"zero":false},"axis":null},"y":{"field":"F2","type":"quantitative","scale":{"domain":[250,450],"nice":false,"zero":false},"axis":null}}},
{"data":{"name":"arrows"},"transform":[{"filter":"datum.id==='5e6'"}],"mark":{"type":"point","shape":"M0,0L-0.8,3L0.8,3Z","angle":236.7,"size":100,"filled":true,"fill":"white","stroke":"#ff0000","strokeWidth":1,"opacity":1},
 "encoding":{"x":{"field":"T2","type":"quantitative","scale":{"domain":[250,600],"nice":false,"zero":false},"axis":null},"y":{"field":"F2","type":"quantitative","scale":{"domain":[250,450],"nice":false,"zero":false},"axis":null}}},
{"data":{"name":"arrows"},"transform":[{"filter":"datum.id==='1e7'"}],"mark":{"type":"point","shape":"M0,0L-0.8,3L0.8,3Z","angle":243.3,"size":100,"filled":true,"fill":"white","stroke":"#ff0000","strokeWidth":1,"opacity":1},
 "encoding":{"x":{"field":"T2","type":"quantitative","scale":{"domain":[250,600],"nice":false,"zero":false},"axis":null},"y":{"field":"F2","type":"quantitative","scale":{"domain":[250,450],"nice":false,"zero":false},"axis":null}}},
{"data":{"name":"arrows"},"transform":[{"filter":"datum.id==='1e5'"}],"mark":{"type":"point","shape":"M0,0L-0.8,3L0.8,3Z","angle":349,"size":100,"filled":true,"fill":"white","stroke":"#ff0000","strokeWidth":1,"opacity":1},
 "encoding":{"x":{"field":"T2","type":"quantitative","scale":{"domain":[250,600],"nice":false,"zero":false},"axis":null},"y":{"field":"F2","type":"quantitative","scale":{"domain":[250,450],"nice":false,"zero":false},"axis":null}}},
{"data":{"name":"arrows"},"transform":[{"filter":"datum.id==='3e5'"}],"mark":{"type":"point","shape":"M0,0L-0.8,3L0.8,3Z","angle":349.1,"size":100,"filled":true,"fill":"white","stroke":"#ff0000","strokeWidth":1,"opacity":1},
 "encoding":{"x":{"field":"T2","type":"quantitative","scale":{"domain":[250,600],"nice":false,"zero":false},"axis":null},"y":{"field":"F2","type":"quantitative","scale":{"domain":[250,450],"nice":false,"zero":false},"axis":null}}},
{"data":{"name":"arrows"},"transform":[{"filter":"datum.id==='1e4'"}],"mark":{"type":"point","shape":"M0,0L-0.8,3L0.8,3Z","angle":0,"size":100,"filled":true,"fill":"white","stroke":"#ff0000","strokeWidth":1,"opacity":1},
 "encoding":{"x":{"field":"T2","type":"quantitative","scale":{"domain":[250,600],"nice":false,"zero":false},"axis":null},"y":{"field":"F2","type":"quantitative","scale":{"domain":[250,450],"nice":false,"zero":false},"axis":null}}},
{"data":{"name":"pieces"},"transform":[{"filter":"datum.s==='m'"}],"mark":{"type":"text","align":"left","baseline":"alphabetic","fontSize":16.5},
 "encoding":{
  "x":{"field":"T","type":"quantitative","scale":{"domain":[250,600],"nice":false,"zero":false},"axis":null},
  "y":{"field":"F","type":"quantitative","scale":{"domain":[250,450],"nice":false,"zero":false},"axis":null},
  "text":{"field":"txt"},
  "color":{"field":"k","type":"nominal","scale":{"domain":["blue","red","black"],"range":["#2020ff","#ff0000","#000000"]},"legend":null}}},
{"data":{"name":"pieces"},"transform":[{"filter":"datum.s==='b'"}],"mark":{"type":"text","align":"left","baseline":"alphabetic","fontSize":14,"dy":4},
 "encoding":{
  "x":{"field":"T","type":"quantitative","scale":{"domain":[250,600],"nice":false,"zero":false},"axis":null},
  "y":{"field":"F","type":"quantitative","scale":{"domain":[250,450],"nice":false,"zero":false},"axis":null},
  "text":{"field":"txt"},
  "color":{"field":"k","type":"nominal","scale":{"domain":["blue","red","black"],"range":["#2020ff","#ff0000","#000000"]},"legend":null}}},
{"data":{"name":"pieces"},"transform":[{"filter":"datum.s==='p'"}],"mark":{"type":"text","align":"left","baseline":"alphabetic","fontSize":13,"dy":-6},
 "encoding":{
  "x":{"field":"T","type":"quantitative","scale":{"domain":[250,600],"nice":false,"zero":false},"axis":null},
  "y":{"field":"F","type":"quantitative","scale":{"domain":[250,450],"nice":false,"zero":false},"axis":null},
  "text":{"field":"txt"},
  "color":{"field":"k","type":"nominal","scale":{"domain":["blue","red","black"],"range":["#2020ff","#ff0000","#000000"]},"legend":null}}},
{"data":{"name":"ytitle"},"transform":[{"filter":"datum.s==='big'"}],"mark":{"type":"text","align":"center","baseline":"middle","angle":270,"fontSize":17,"font":"DejaVu Sans","color":"black"},
 "encoding":{
  "x":{"field":"T","type":"quantitative","scale":{"domain":[250,600],"nice":false,"zero":false},"axis":null},
  "y":{"field":"F","type":"quantitative","scale":{"domain":[250,450],"nice":false,"zero":false},"axis":null},
  "text":{"field":"txt"}}},
{"data":{"name":"ytitle"},"transform":[{"filter":"datum.s==='small'"}],"mark":{"type":"text","align":"center","baseline":"middle","angle":270,"fontSize":13,"font":"DejaVu Sans","color":"black"},
 "encoding":{
  "x":{"field":"T","type":"quantitative","scale":{"domain":[250,600],"nice":false,"zero":false},"axis":null},
  "y":{"field":"F","type":"quantitative","scale":{"domain":[250,450],"nice":false,"zero":false},"axis":null},
  "text":{"field":"txt"}}}
],
"resolve":{"axis":{"x":"independent","y":"independent"}}
}
